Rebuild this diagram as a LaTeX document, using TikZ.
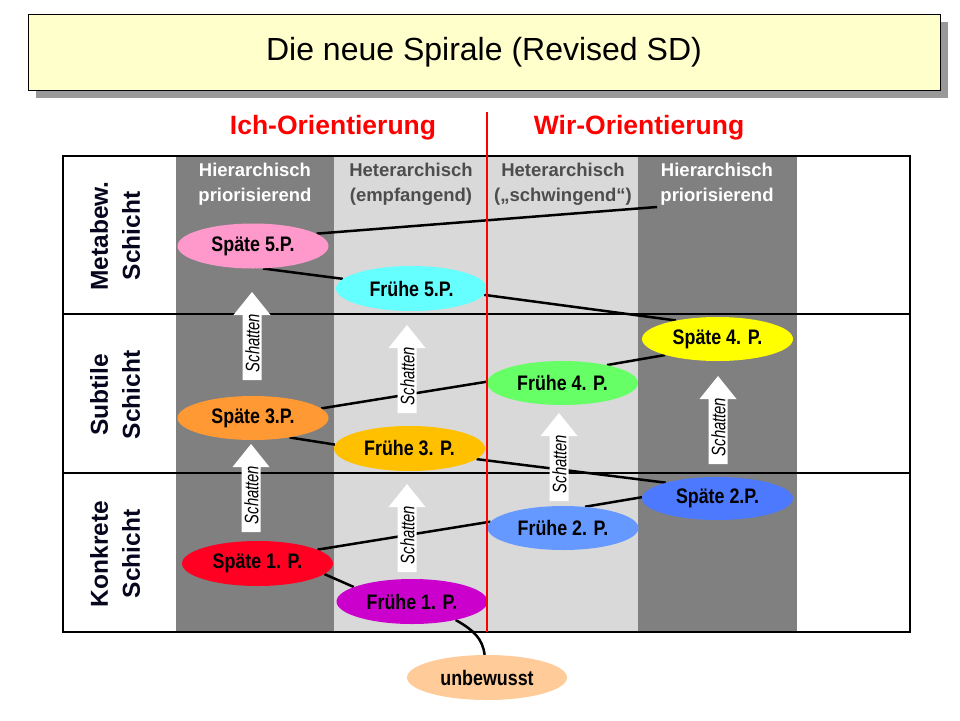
\documentclass[tikz,border=0pt]{standalone}
\usepackage{fontspec}
\setmainfont{Liberation Sans}
\newfontfamily\condfont{Liberation Sans}[FakeStretch=0.85]
\newfontfamily\narrowfont{Liberation Sans}[FakeStretch=0.76]
\usetikzlibrary{shapes.geometric}
\definecolor{darkcol}{HTML}{808080}
\definecolor{lightcol}{HTML}{D9D9D9}
\definecolor{hdrdark}{HTML}{4D4D4D}
\definecolor{titlefill}{HTML}{FFFFCC}
\definecolor{shadowcol}{HTML}{999999}
\definecolor{rowtext}{HTML}{06061F}
\definecolor{cPink}{HTML}{FF99CC}
\definecolor{cCyan}{HTML}{66FFFF}
\definecolor{cYellow}{HTML}{FFFF00}
\definecolor{cGreen}{HTML}{66FF66}
\definecolor{cOrange}{HTML}{FF9933}
\definecolor{cGold}{HTML}{FFC000}
\definecolor{cBlue}{HTML}{4D79FF}
\definecolor{cLightBlue}{HTML}{6699FF}
\definecolor{cRed}{HTML}{FF0022}
\definecolor{cMagenta}{HTML}{CC00CC}
\definecolor{cPeach}{HTML}{FFCC99}
\pgfdeclarelayer{bg}
\pgfdeclarelayer{mid}
\pgfdeclarelayer{fg}
\pgfsetlayers{bg,mid,main,fg}
\begin{document}
\begin{tikzpicture}[x=1pt,y=-1pt,
  phase/.style={ellipse, minimum width=151, minimum height=45, inner sep=0pt,
    font=\condfont\bfseries\fontsize{21}{24}\selectfont},
  conn/.style={line width=2.5pt, black},
  gridline/.style={line width=2pt, black},
  hdrlight/.style={align=center, text=white, font=\bfseries\fontsize{18.5}{25}\selectfont},
  hdrlt/.style={align=center, text=hdrdark, font=\bfseries\fontsize{18.5}{25}\selectfont},
  rowlabel/.style={align=center, rotate=90, text=rowtext, font=\bfseries\fontsize{24.5}{32}\selectfont},
  orient/.style={text=red, font=\bfseries\fontsize{26.5}{30}\selectfont},
  schat/.pic={
    \fill[white] (-9.5,0) -- (-9.5,-65) -- (-18.5,-65) -- (0,-88) -- (18.5,-65) -- (9.5,-65) -- (9.5,0) -- cycle;
    \node[rotate=90, inner sep=0pt, font=\narrowfont\itshape\fontsize{19.5}{20}\selectfont] at (0.5,-37) {Schatten};
  }]
\useasboundingbox (0,0) rectangle (960,720);

\begin{pgfonlayer}{bg}
\fill[white] (0,0) rectangle (960,720);
% title shadow
\fill[shadowcol] (36,22) rectangle (948,98);
% columns
\fill[darkcol] (176,156) rectangle (334,632);
\fill[lightcol] (334,156) rectangle (638,632);
\fill[darkcol] (638,156) rectangle (797,632);
% grid
\draw[gridline] (63,156) rectangle (910,632);
\draw[gridline] (63,314) -- (910,314);
\draw[gridline] (63,473) -- (910,473);
\end{pgfonlayer}

% title
\node[draw=black, line width=1pt, fill=titlefill, minimum width=912, minimum height=76, inner sep=0pt,
  font=\fontsize{32}{38}\selectfont] (title) at (484,52) {Die neue Spirale (Revised SD)};

% orientation headers
\node[orient] (ich) at (333,128) {Ich-Orientierung};
\node[orient] (wir) at (639,128) {Wir-Orientierung};

% column headers
\node[hdrlight] (h1) at (255,184) {Hierarchisch\\priorisierend};
\node[hdrlt] (h2) at (411,184) {Heterarchisch\\(empfangend)};
\node[hdrlt] (h3) at (563,184) {Heterarchisch\\(„schwingend“)};
\node[hdrlight] (h4) at (717,184) {Hierarchisch\\priorisierend};

% row labels
\node[rowlabel] (r1) at (115,236) {Metabew.\\Schicht};
\node[rowlabel] (r2) at (115,395) {Subtile\\Schicht};
\node[rowlabel] (r3) at (115,554) {Konkrete\\Schicht};

% phase ellipses
\node[phase, fill=cPink] (s5) at (253,246) {Späte 5.P.};
\node[phase, fill=cCyan] (f5) at (411.5,288.5) {Frühe 5.P.};
\node[phase, fill=cYellow, minimum height=44] (s4) at (717.5,339) {Späte 4. P.};
\node[phase, fill=cGreen, minimum height=44] (f4) at (562.5,383) {Frühe 4. P.};
\node[phase, fill=cOrange, minimum height=44] (s3) at (253,418) {Späte 3.P.};
\node[phase, fill=cGold] (f3) at (409.5,448.5) {Frühe 3. P.};
\node[phase, fill=cBlue, minimum height=43] (s2) at (717.5,498.5) {Späte 2.P.};
\node[phase, fill=cLightBlue, minimum height=44] (f2) at (563,528) {Frühe 2. P.};
\node[phase, fill=cRed] (s1) at (257.5,563.5) {Späte 1. P.};
\node[phase, fill=cMagenta] (f1) at (412,601.5) {Frühe 1. P.};
\node[phase, fill=cPeach, minimum width=160] (u) at (487,677.5) {unbewusst};
\coordinate (tl) at (657,207);

\begin{pgfonlayer}{mid}
% connectors
\draw[conn] (s5.11) -- (tl);
\draw[conn] (s5.-66) -- (f5.172);
\draw[conn] (f5.-5) -- (s4.156);
\draw[conn] (s4.197) -- (f4.22);
\draw[conn] (f4.179) -- (s3.8);
\draw[conn] (s3.-28) -- (f3.177);
\draw[conn] (f3.-9) -- (s2.163);
\draw[conn] (s2.179) -- (f2.44);
\draw[conn] (f2.175) -- (s1.13);
\draw[conn] (s1.-9) -- (f1.166);
\draw[conn] (f1.-23) .. controls +(18,10) and +(-2,-16) .. (u.96);
% shadow arrows
\pic at (252,380) {schat};
\pic at (407,413) {schat};
\pic at (251,532) {schat};
\pic at (407,572) {schat};
\pic at (559,501) {schat};
\pic at (718,464) {schat};
\end{pgfonlayer}

\begin{pgfonlayer}{fg}
\coordinate (rtop) at (487,112);
\coordinate (rbot) at (487,632);
\draw[red, line width=2.5pt] (rtop) -- (rbot);
\end{pgfonlayer}
\end{tikzpicture}
\end{document}
